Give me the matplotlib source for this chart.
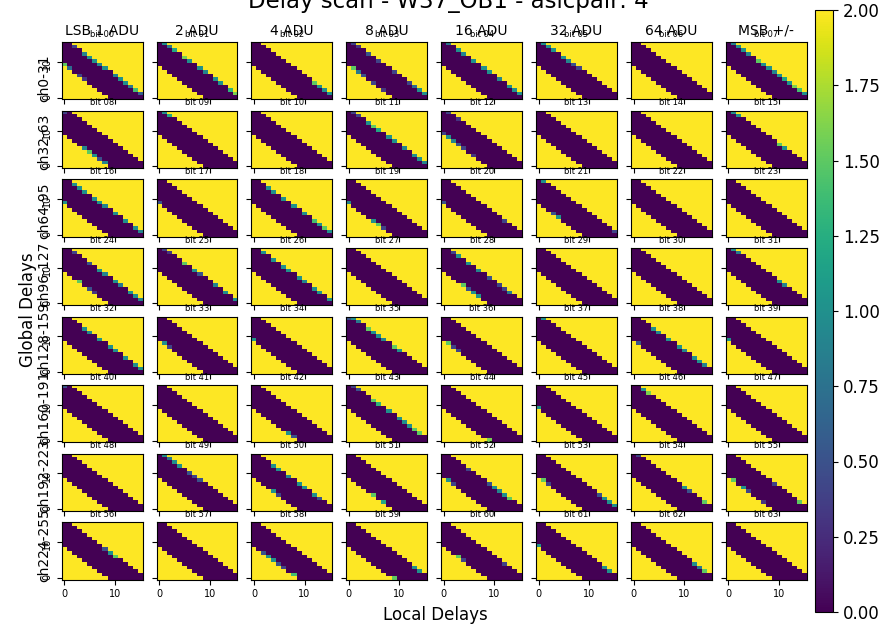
import numpy as np
import matplotlib
matplotlib.use('Agg')
import matplotlib.pyplot as plt

col_titles = ['LSB 1 ADU', '2 ADU', '4 ADU', '8 ADU', '16 ADU', '32 ADU', '64 ADU', 'MSB +/-']
row_labels = ['ch0-31', 'ch32-63', 'ch64-95', 'ch96-127',
              'ch128-159', 'ch160-191', 'ch192-223', 'ch224-255']

# global delay range of the "no error" band, per local delay (column)
band_lo = [9, 8, 7, 6, 5, 4, 3, 2, 1, 0, 0, 0, 0, 0, 0, 0]
band_hi = [15, 15, 14, 13, 12, 11, 10, 9, 8, 7, 6, 5, 4, 3, 2, 1]

# partial values on the upper / lower edge of the band: {bit: {local delay: value}}
upper_edge = {
    0: {2: 0.4, 4: 0.9, 5: 1.0, 6: 1.0, 7: 0.9, 8: 1.0, 10: 0.9, 11: 1.0, 12: 1.0, 13: 0.8, 14: 1.4, 15: 0.6},
    1: {1: 1.0, 2: 0.8, 3: 1.2, 5: 1.6, 6: 1.0, 8: 1.0, 9: 0.9, 11: 1.0, 12: 1.0, 14: 1.3, 15: 1.6},
    2: {12: 1.5, 13: 1.0, 14: 1.0, 15: 1.0},
    3: {1: 0.4, 2: 0.3, 4: 0.5, 6: 0.4, 9: 0.4, 12: 0.4, 13: 0.7, 14: 1.0, 15: 1.0},
    4: {1: 0.8, 3: 1.0, 4: 0.9, 6: 1.0, 8: 1.0, 9: 1.0, 11: 0.9, 13: 1.0, 14: 1.0, 15: 1.0},
    5: {1: 1.0, 2: 1.0, 3: 1.0, 5: 1.0, 6: 0.9, 7: 0.5, 8: 0.4},
    7: {1: 0.9, 2: 1.0, 3: 1.0, 4: 0.9, 6: 1.5, 7: 1.0, 8: 1.0, 9: 0.9, 10: 1.0, 11: 1.2, 12: 1.0, 13: 1.6, 14: 1.4, 15: 1.0},
    8: {0: 0.4},
    9: {1: 1.0, 2: 1.2},
    11: {1: 0.4, 2: 0.4, 4: 1.0, 5: 1.5, 6: 1.2, 8: 1.0, 9: 1.0, 11: 0.9, 13: 1.0, 14: 1.0, 15: 0.9},
    12: {1: 0.4, 3: 0.3},
    15: {1: 1.0, 2: 1.0, 10: 1.5, 11: 1.0},
    16: {2: 1.0, 3: 1.0, 4: 1.0, 6: 1.0, 7: 1.0, 8: 0.9, 10: 1.0, 12: 1.0, 14: 1.0, 15: 0.9},
    18: {3: 1.0, 4: 1.0, 6: 1.0, 8: 1.0, 10: 1.0, 12: 1.4, 13: 1.0, 14: 1.5, 15: 1.0},
    20: {12: 0.4},
    21: {1: 1.0, 15: 0.4},
    24: {2: 0.4, 5: 0.5, 7: 1.0, 8: 0.9, 10: 1.0, 11: 0.8, 13: 1.0, 14: 1.0, 15: 0.9},
    25: {1: 0.4, 2: 0.3, 5: 1.5, 7: 1.0, 8: 0.5, 11: 0.9, 13: 1.0, 15: 1.0},
    26: {2: 1.0, 4: 1.0, 6: 1.0, 7: 1.0, 9: 1.0, 10: 0.9, 12: 1.0, 13: 1.0, 15: 1.0},
    28: {2: 0.4, 3: 1.0, 5: 1.0, 7: 0.9, 9: 0.5, 11: 0.4, 12: 0.4, 13: 0.8},
    31: {1: 1.0, 2: 0.8, 10: 1.0, 11: 0.9},
    32: {4: 1.0, 5: 0.9, 7: 1.0, 9: 1.0, 10: 1.0, 12: 1.0, 14: 1.0, 15: 1.0},
    35: {0: 0.5, 1: 1.0, 2: 0.8, 4: 1.5, 5: 1.0, 6: 1.0, 7: 0.9, 9: 1.5, 10: 1.0},
    37: {1: 1.0},
    38: {4: 1.0, 5: 0.9, 7: 1.0, 9: 1.0, 10: 0.9, 12: 1.0, 13: 1.0, 14: 0.9},
    40: {0: 0.5},
    43: {1: 0.4, 2: 0.5, 5: 1.5, 6: 1.3, 8: 1.0, 10: 1.0, 11: 1.0, 12: 1.0, 13: 1.5, 14: 1.5},
    46: {2: 1.0, 3: 1.6},
    49: {1: 1.0, 2: 0.8, 3: 1.0, 4: 1.0, 6: 0.5, 7: 0.4, 8: 0.5},
    50: {4: 1.0, 5: 1.0, 7: 0.9, 9: 1.0, 10: 1.0, 12: 1.0, 13: 0.5},
    52: {5: 0.4, 9: 0.5, 10: 1.0, 11: 0.9, 12: 1.0, 13: 1.5},
    53: {12: 0.5, 13: 1.0, 14: 1.0, 15: 1.0},
    54: {1: 0.4, 10: 1.0, 11: 0.5, 14: 1.5},
    55: {9: 0.4, 14: 1.5},
    56: {8: 0.5, 9: 1.0, 10: 1.5},
    59: {13: 1.0, 14: 1.0},
    60: {12: 0.4},
    61: {13: 1.0, 14: 1.0},
    62: {12: 1.0, 13: 0.8, 14: 1.5},
}
lower_edge = {
    0: {0: 1.5, 1: 0.7, 3: 0.4, 4: 0.3},
    3: {1: 1.5, 2: 0.8, 3: 0.5, 5: 0.4, 7: 0.3},
    8: {4: 0.9, 5: 1.5, 6: 1.0, 7: 0.5, 8: 0.9},
    12: {0: 0.4, 1: 1.0, 2: 0.9, 3: 0.5, 4: 0.4, 6: 0.3},
    16: {0: 1.0},
    17: {0: 0.5},
    19: {0: 0.9, 5: 1.0, 6: 1.5, 7: 0.4},
    20: {0: 0.5},
    21: {3: 0.5, 4: 1.0},
    24: {3: 1.5, 5: 0.5, 6: 0.3},
    28: {4: 1.5, 5: 0.5, 6: 1.0, 7: 1.0},
    33: {1: 1.0, 2: 0.4},
    34: {0: 1.0},
    36: {1: 1.5, 2: 0.4, 3: 0.4},
    38: {1: 0.5},
    39: {0: 1.0},
    42: {7: 1.0, 8: 0.5},
    44: {9: 1.6},
    45: {0: 1.0},
    50: {4: 1.0, 5: 0.4},
    51: {5: 1.5, 7: 1.2},
    52: {1: 1.0, 2: 0.4},
    53: {1: 1.5, 2: 0.4},
    55: {1: 1.5, 3: 1.0, 4: 0.4, 7: 0.3},
    58: {2: 0.5, 3: 1.0, 4: 1.0, 5: 0.5, 6: 0.4, 8: 1.4},
    59: {9: 1.5},
    60: {3: 1.5, 4: 0.4},
    61: {0: 1.0},
}


def scan_for_bit(bit):
    z = np.full((16, 16), 2.0)
    for j in range(16):
        z[band_lo[j]:band_hi[j] + 1, j] = 0.0
    for j, v in upper_edge.get(bit, {}).items():
        z[band_hi[j], j] = v
    for j, v in lower_edge.get(bit, {}).items():
        z[band_lo[j], j] = v
    return z


fig = plt.figure(figsize=(8.94, 6.28), dpi=100)
axes = fig.subplots(8, 8, sharex=True, sharey=True,
                    gridspec_kw=dict(left=0.069, right=0.9024, top=0.9326, bottom=0.0772,
                                     wspace=0.173, hspace=0.2))

for r in range(8):
    for c in range(8):
        bit = r * 8 + c
        ax = axes[r, c]
        im = ax.imshow(scan_for_bit(bit), origin='lower', cmap='viridis', vmin=0, vmax=2,
                       aspect='auto', interpolation='nearest')
        ax.set_title('bit %02d' % bit, fontsize=6, pad=4)
        ax.set_xticks([0, 10])
        ax.set_yticks([0, 10])
        ax.tick_params(labelsize=7)
        ax.tick_params(axis='y', labelrotation=90)
    axes[r, 0].text(-0.13, -0.04, row_labels[r], transform=axes[r, 0].transAxes,
                    rotation=90, ha='right', va='bottom', fontsize=10)

for c in range(8):
    axes[0, c].annotate(col_titles[c], xy=(0.5, 1), xycoords='axes fraction',
                        xytext=(0, 5.3), textcoords='offset points',
                        ha='center', va='baseline', fontsize=10)

fig.text(448 / 894, 1 - 8 / 628, 'Delay scan - W37_OB1 - asicpair: 4',
         ha='center', va='baseline', fontsize=16.5)
fig.text(28 / 894, 1 - 310 / 628, 'Global Delays', rotation=90, ha='center', va='center', fontsize=12)
fig.text(435 / 894, 1 - 615 / 628, 'Local Delays', ha='center', va='center', fontsize=12)

cax = fig.add_axes([815 / 894, 1 - 612 / 628, 18 / 894, 602 / 628])
cb = fig.colorbar(im, cax=cax)
cb.set_ticks(np.arange(0, 2.01, 0.25))
cb.ax.yaxis.set_major_formatter(matplotlib.ticker.FormatStrFormatter('%.2f'))
cb.ax.tick_params(labelsize=12)

fig.savefig('out.png', dpi=100)
